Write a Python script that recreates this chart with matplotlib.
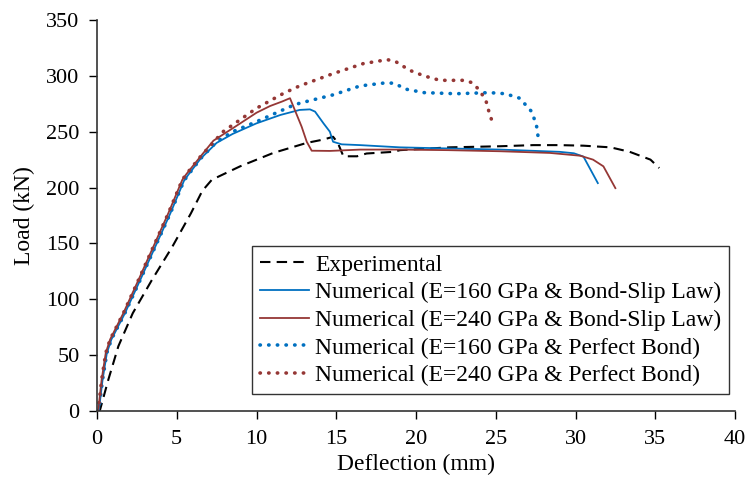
import numpy as np
import matplotlib
matplotlib.use('Agg')
import matplotlib.pyplot as plt

# Experimental
exp_x = [0, 0.19, 0.71, 1.34, 2.24, 3.43, 4.72, 5.89, 6.6, 7.2, 8.97, 11.05, 13.15, 14.2, 14.8,
         15.1, 15.3, 15.45, 16.3, 16.9, 18.6, 19.0, 22.1, 25.3, 27.35, 29.0, 30.5, 32.2, 33.4,
         34.7, 35.25]
exp_y = [0, 1, 28, 58, 87.5, 117, 147, 177, 197, 207, 219, 231, 240, 243, 245.5,
         240, 233, 228, 228, 230.5, 232, 233.5, 236, 237, 238, 238, 237.5, 236, 232,
         225, 217.5]

# Numerical E=160 GPa, bond-slip
b160_x = [0, 0.12, 0.35, 0.62, 0.9, 1.75, 2.7, 3.65, 4.6, 5.45, 5.7, 6.5, 7.5, 8.5, 10.0,
          11.5, 12.7, 13.35, 13.67, 14.2, 14.6, 14.8, 15.34, 16.5, 19.0, 22.1, 25.3, 29.0,
          29.9, 30.5, 31.4]
b160_y = [0, 1, 28, 52, 64, 87.5, 117, 147, 177, 206, 211, 226, 240, 248, 257.5,
          265, 269.5, 270, 268, 257.5, 250, 241, 238.7, 238, 236, 235, 234, 232,
          230.7, 227.7, 204]

# Numerical E=240 GPa, bond-slip
b240_x = [0, 0.08, 0.29, 0.55, 0.82, 1.65, 2.59, 3.53, 4.47, 5.35, 5.6, 6.5, 7.3, 8.5, 10.0,
          10.85, 11.6, 12.1, 12.4, 12.83, 13.15, 13.46, 14.6, 16.5, 19.0, 22.0, 25.3, 28.4,
          30.3, 31.1, 31.75, 32.5]
b240_y = [0, 1, 28, 52, 64, 87.5, 117, 147, 177, 207, 212, 228, 242, 253, 267,
          273, 277, 280, 269.5, 254.5, 241, 233, 232.8, 234, 234, 233.5, 232.5, 231,
          228.5, 225, 219, 199.5]

# Numerical E=160 GPa, perfect bond
p160_x = [0, 0.12, 0.35, 0.62, 0.9, 1.75, 2.7, 3.65, 4.6, 5.45, 5.7, 6.5, 7.5, 8.5, 10.0,
          12.1, 12.7, 14.8, 16.5, 17.95, 18.6, 19.4, 20.5, 22.5, 24.6, 25.6, 26.5, 27.25,
          27.55, 27.7]
p160_y = [0, 1, 28, 52, 64, 87.5, 117, 147, 177, 206, 211, 226, 241, 250, 259,
          272.4, 275.5, 283, 291, 293.5, 293.5, 288, 285, 284, 285, 284, 280, 268,
          256, 241]

# Numerical E=240 GPa, perfect bond
p240_x = [0, 0.08, 0.29, 0.55, 0.82, 1.65, 2.59, 3.53, 4.47, 5.35, 5.6, 6.5, 7.9, 10.0,
          11.7, 12.7, 14.8, 16.7, 18.2, 18.7, 19.6, 20.5, 21.5, 23.0, 23.5, 24.0, 24.4,
          24.6, 24.85]
p240_y = [0, 1, 28, 52, 64, 87.5, 117, 147, 177, 207, 212, 228, 250, 271,
          284.4, 291, 302, 311, 314.5, 313, 305, 300, 296, 296, 294, 287, 277,
          266.5, 256]

labels = ['Experimental',
          'Numerical (E=160 GPa & Bond-Slip Law)',
          'Numerical (E=240 GPa & Bond-Slip Law)',
          'Numerical (E=160 GPa & Perfect Bond)',
          'Numerical (E=240 GPa & Perfect Bond)']

blue = '#0070C0'
red = '#953735'

plt.rcParams['font.family'] = ['Liberation Serif', 'DejaVu Serif']

fig = plt.figure(figsize=(7.46, 4.84), dpi=100)
ax = fig.add_axes([97/746, 73/484, 638/746, 391/484])

ax.plot(exp_x, exp_y, color='black', lw=1.5, linestyle=(0, (5, 3)), label=labels[0])
ax.plot(b160_x, b160_y, color=blue, lw=1.3, label=labels[1])
ax.plot(b240_x, b240_y, color=red, lw=1.3, label=labels[2])
ax.plot(p160_x, p160_y, color=blue, lw=2.6, linestyle=(0, (0.1, 2.3)),
        dash_capstyle='round', label=labels[3])
ax.plot(p240_x, p240_y, color=red, lw=2.6, linestyle=(0, (0.1, 2.3)),
        dash_capstyle='round', label=labels[4])

ax.set_xlim(0, 40)
ax.set_ylim(0, 350)
ax.set_xticks(np.arange(0, 41, 5))
ax.set_yticks(np.arange(0, 351, 50))
ax.tick_params(direction='out', length=5.5, width=1, labelsize=16, colors='black')
ax.tick_params(axis='x', pad=8.5)
ax.tick_params(axis='y', pad=7)
for s in ['top', 'right']:
    ax.spines[s].set_visible(False)
for s in ['left', 'bottom']:
    ax.spines[s].set_color('#333333')
    ax.spines[s].set_linewidth(1.2)

ax.set_xlabel('Deflection (mm)', fontsize=17, labelpad=3)
ax.set_ylabel('Load (kN)', fontsize=17, labelpad=8)

leg = ax.legend(loc='lower right', bbox_to_anchor=(0.991, 0.0435), borderaxespad=0,
                fontsize=17, frameon=True, fancybox=False, edgecolor='black',
                handlelength=2.1, handletextpad=0.25, labelspacing=0.26, borderpad=0.33)
leg.get_frame().set_linewidth(1.0)

fig.savefig('out.png', dpi=100)
